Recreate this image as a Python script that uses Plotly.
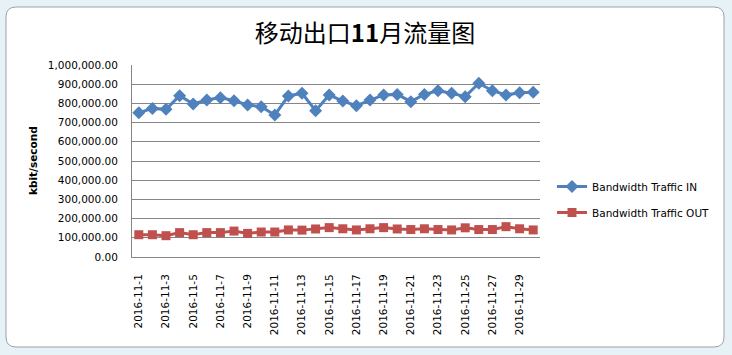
import plotly.graph_objects as go

dates = [f"2016-11-{d}" for d in range(1, 31)]
traffic_in = [751000, 774000, 769000, 840000, 797000, 818000, 830000, 814000, 792000, 783000,
              740000, 839000, 853000, 762000, 844000, 812000, 788000, 818000, 844000, 847000,
              809000, 847000, 866000, 853000, 835000, 905000, 866000, 844000, 856000, 858000]
traffic_out = [116000, 116000, 111000, 127000, 116000, 127000, 127000, 135000, 123000, 130000,
               130000, 141000, 140000, 146000, 153000, 147000, 141000, 147000, 153000, 146000,
               143000, 147000, 143000, 141000, 152000, 143000, 143000, 158000, 147000, 141000]
tick_labels = dates[::2]

W, H = 732, 355
L, R, T, B = 132, 192, 65, 98
pw, ph = W - L - R, H - T - B
FONT = "DejaVu Sans, Verdana, sans-serif"

def px(x):
    return (x - L) / pw

def py(y):
    return (H - B - y) / ph

fig = go.Figure()
fig.add_trace(go.Scatter(
    x=dates, y=traffic_in, mode="lines+markers", name="Bandwidth Traffic IN",
    line=dict(color="#4F81BD", width=3),
    marker=dict(symbol="diamond", size=10, color="#4F81BD"),
    legendgroup="a"))
fig.add_trace(go.Scatter(
    x=dates, y=traffic_out, mode="lines+markers", name="Bandwidth Traffic OUT",
    line=dict(color="#C0504D", width=3),
    marker=dict(symbol="square", size=9, color="#C0504D"),
    legendgroup="b"))

# rounded chart frame
x0, y0, x1, y1, r = px(6), py(7), px(724), py(347), 10
rx, ry = r / pw, r / ph
path = (f"M {x0+rx},{y0} L {x1-rx},{y0} Q {x1},{y0} {x1},{y0-ry} "
        f"L {x1},{y1+ry} Q {x1},{y1} {x1-rx},{y1} L {x0+rx},{y1} "
        f"Q {x0},{y1} {x0},{y1+ry} L {x0},{y0-ry} Q {x0},{y0} {x0+rx},{y0} Z")
fig.add_shape(type="path", path=path, xref="paper", yref="paper",
              fillcolor="white", line=dict(color="#9aa3a8", width=1), layer="below")

fig.add_annotation(text="<b>kbit/second</b>", x=px(33), y=py(161), xref="paper", yref="paper",
                   xanchor="center", yanchor="middle",
                   textangle=-90, showarrow=False, font=dict(size=10.5, color="black", family=FONT))

fig.update_layout(
    width=W, height=H,
    margin=dict(l=L, r=R, t=T, b=B),
    paper_bgcolor="#e6f2f5",
    plot_bgcolor="rgba(0,0,0,0)",
    title=dict(text="移动出口<b>11</b>月流量图", x=px(365), xref="paper", xanchor="center",
               y=1 - 34 / H, yanchor="middle",
               font=dict(size=24, color="black", family="Noto Sans CJK SC")),
    font=dict(family=FONT, size=10.5, color="black"),
    showlegend=True,
    legend=dict(x=px(552), y=py(172), xanchor="left", yanchor="top",
                bgcolor="rgba(0,0,0,0)", traceorder="grouped", tracegroupgap=7,
                font=dict(size=10.5, family=FONT)),
    xaxis=dict(type="category", tickmode="array", tickvals=tick_labels, ticktext=tick_labels,
               tickangle=-90, showgrid=False, showline=True, linecolor="#868686", linewidth=1,
               ticks="", ticklabelstandoff=12, zeroline=False, range=[-0.5, 29.5]),
    yaxis=dict(range=[0, 1000000], dtick=100000, tickformat=",.2f", showgrid=True,
               gridcolor="#868686", gridwidth=1, showline=True, linecolor="#868686",
               ticks="", ticklabelstandoff=11, zeroline=False),
)

fig.write_html("out.html")
